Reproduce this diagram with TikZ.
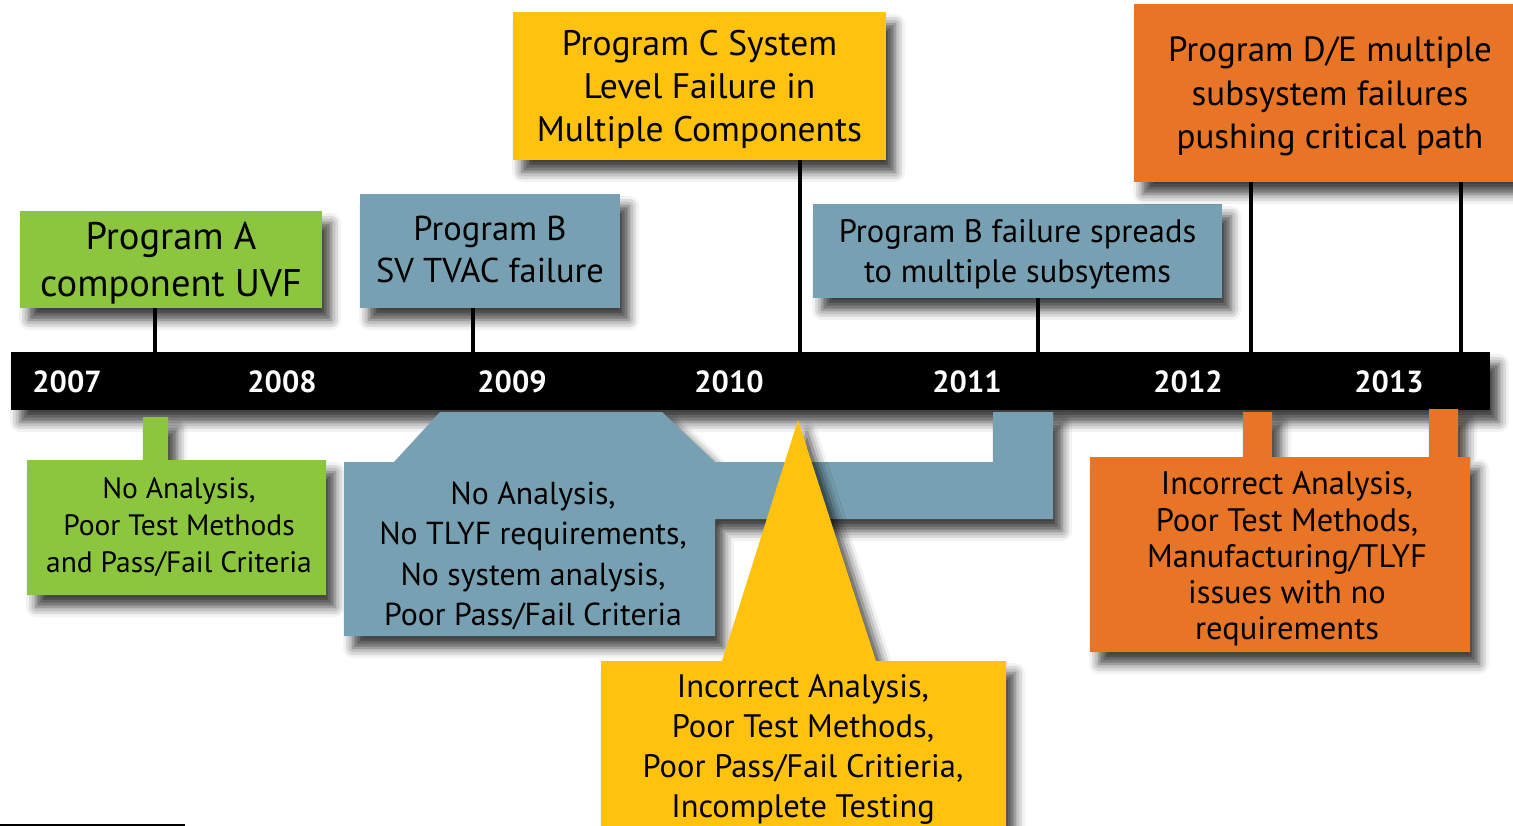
\documentclass[tikz,border=0pt]{standalone}
\usepackage{fontspec}
\setmainfont{PT Sans}
\usetikzlibrary{shadows.blur}
\definecolor{progGreen}{HTML}{8CC63F}
\definecolor{progBlue}{HTML}{77A1B2}
\definecolor{progYellow}{HTML}{FFC20E}
\definecolor{progOrange}{HTML}{E87425}

\begin{document}
\begin{tikzpicture}[x=1pt, y=-1pt,
		    shade/.style={blur shadow={shadow xshift=9pt, shadow yshift=-12pt, shadow blur radius=10pt, shadow opacity=75}},
		    box/.style={shade, inner sep=0pt, align=center, text depth=0pt},
		    txt/.style={inner sep=0pt, align=center},
		    year/.style={inner sep=0pt, text=white, font=\fontsize{30.5}{32}\selectfont\bfseries},
		    tick/.style={line width=4pt, draw=black}]

\useasboundingbox (0,0) rectangle (1513,826);

\node[box, fill=progGreen, minimum width=302, minimum height=97, font=\fontsize{38.5}{47}\selectfont] (progA) at (171,259.5) {Program A\\component UVF};
\node[box, fill=progBlue, minimum width=260, minimum height=114, text depth=3pt, font=\fontsize{34.5}{42}\selectfont] (progB) at (490,251) {Program B\\SV TVAC failure};
\node[box, fill=progYellow, minimum width=373, minimum height=148, font=\fontsize{35.5}{43}\selectfont] (progC) at (699.5,86) {Program C System\\Level Failure in\\Multiple Components};
\node[box, fill=progBlue, minimum width=409, minimum height=94, font=\fontsize{32.5}{40}\selectfont] (progBs) at (1017.5,251) {Program B failure spreads\\to multiple subsytems};
\node[box, fill=progOrange, minimum width=392, minimum height=178, font=\fontsize{35}{43.5}\selectfont] (progDE) at (1330,93) {Program D/E multiple\\subsystem failures\\pushing critical path};

\node[box, fill=black, minimum width=1479, minimum height=58] (bar) at (750.5,381) {};
\foreach \yr/\xp in {2007/67, 2008/282, 2009/512, 2010/729, 2011/967, 2012/1188, 2013/1389}
    \node[year] (y\yr) at (\xp,382) {\yr};

\coordinate (tA) at (155,352);
\coordinate (tB) at (473,352);
\coordinate (tC) at (800,352);
\coordinate (tBs) at (1038,352);
\coordinate (tD) at (1251,352);
\coordinate (tE) at (1461,352);
\draw[tick] (tA) -- (tA |- progA.south);
\draw[tick] (tB) -- (tB |- progB.south);
\draw[tick] (tC) -- (tC |- progC.south);
\draw[tick] (tBs) -- (tBs |- progBs.south);
\draw[tick] (tD) -- (tD |- progDE.south);
\draw[tick] (tE) -- (tE |- progDE.south);

\fill[progGreen, shade] (27,460) -- (143,460) -- (143,417) -- (168,417) -- (168,460)
    -- (326,460) -- (326,595) -- (27,595) -- cycle;
\node[txt, font=\fontsize{29.5}{37}\selectfont] (noteA) at (179,527) {No Analysis,\\Poor Test Methods\\and Pass/Fail Criteria};

\fill[progBlue, shade] (344,462) -- (394,462) -- (440,412) -- (662,412) -- (715,462)
    -- (993,462) -- (993,412) -- (1053,412) -- (1053,519) -- (715,519) -- (715,636) -- (344,636) -- cycle;
\node[txt, font=\fontsize{31.8}{40.5}\selectfont] (noteB) at (533,556) {No Analysis,\\No TLYF requirements,\\No system analysis,\\Poor Pass/Fail Criteria};

\fill[progYellow, shade] (798,420) -- (876,661) -- (1006,661) -- (1006,850) -- (601,850)
    -- (601,661) -- (722,661) -- cycle;
\node[txt, font=\fontsize{32.5}{40}\selectfont] (noteC) at (803,749) {Incorrect Analysis,\\Poor Test Methods,\\Poor Pass/Fail Critieria,\\Incomplete Testing};

\fill[progOrange, shade] (1090,457) -- (1243,457) -- (1243,412) -- (1272,412) -- (1272,457)
    -- (1429,457) -- (1429,409) -- (1458,409) -- (1458,457) -- (1470,457) -- (1470,652) -- (1090,652) -- cycle;
\node[txt, font=\fontsize{32.5}{36.3}\selectfont] (noteDE) at (1287,559) {Incorrect Analysis,\\Poor Test Methods,\\Manufacturing/TLYF\\issues with no\\requirements};

\draw[line width=1.5pt, black] (0,825) -- (185,825);
\end{tikzpicture}
\end{document}
